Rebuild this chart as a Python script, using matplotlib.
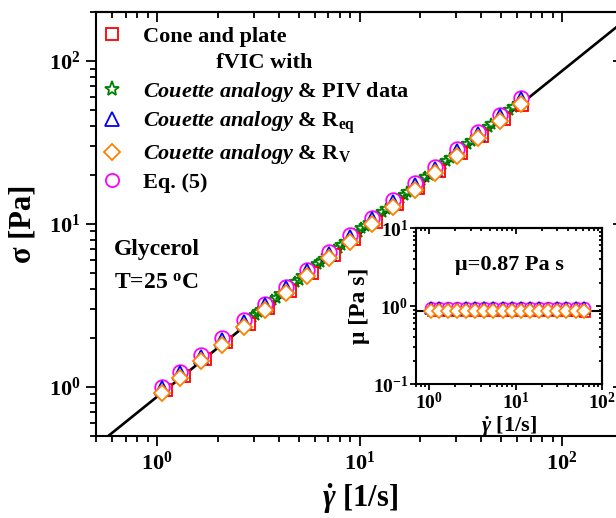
import numpy as np
import matplotlib
matplotlib.use("Agg")
import matplotlib.pyplot as plt
from matplotlib.lines import Line2D
from matplotlib.ticker import LogLocator, FuncFormatter, NullFormatter

plt.rcParams.update({
    "font.family": ["Liberation Serif", "DejaVu Serif"],
    "font.weight": "bold",
    "axes.labelweight": "bold",
    "mathtext.fontset": "custom",
    "mathtext.rm": "Liberation Serif:bold",
    "mathtext.it": "Liberation Serif:italic:bold",
    "mathtext.bf": "Liberation Serif:bold",
    "axes.linewidth": 1.5,
})

# Newtonian fit for glycerol at 25 C
MU_FIT = 0.87
FIT_RANGE = [0.5, 200.0]

# fVIC shear rates [1/s] shared by the Couette-analogy and Eq. (5) series
shear_rate = [1.055, 1.30, 1.65, 2.09, 2.69, 3.41, 4.32, 5.52, 7.09,
              8.97, 11.5, 14.7, 18.7, 23.6, 30.2, 38.6, 49.4, 62.5]
sigma_rv = [0.918, 1.131, 1.436, 1.818, 2.340, 2.967, 3.758, 4.802, 6.168,
            7.804, 10.01, 12.79, 16.27, 20.53, 26.27, 33.58, 42.98, 54.38]
sigma_req = [0.98, 1.21, 1.53, 1.94, 2.50, 3.17, 4.02, 5.13, 6.59,
             8.34, 10.7, 13.7, 17.4, 21.9, 28.1, 35.9, 45.9, 58.1]
sigma_eq5 = [1.00, 1.24, 1.57, 1.99, 2.56, 3.24, 4.11, 5.24, 6.74,
             8.52, 10.9, 14.0, 17.8, 22.4, 28.7, 36.7, 46.9, 59.4]

# cone-and-plate rheometer
shear_rate_cp = [1.11, 1.36, 1.72, 2.19, 2.85, 3.55, 4.52, 5.80, 7.50,
                 9.40, 12.0, 15.4, 19.5, 24.7, 31.7, 40.4, 51.5, 63.5]
sigma_cp = [0.955, 1.17, 1.48, 1.88, 2.44, 3.05, 3.88, 4.97, 6.42,
            8.07, 10.3, 13.2, 16.7, 21.2, 27.1, 34.7, 44.2, 53.8]

# Couette analogy with PIV data
shear_rate_piv = [2.85, 2.95, 3.05, 3.15, 3.27, 3.40, 3.55, 3.70, 3.88, 4.05,
                  4.45, 4.62, 4.80, 5.00, 5.20, 5.70, 5.92, 6.15, 6.40, 6.65,
                  6.95, 7.50, 7.80, 8.10, 8.45, 9.40, 9.80, 10.2, 10.6, 11.1,
                  11.8, 12.3, 12.9, 13.5, 15.2, 15.8, 16.5, 17.2, 19.4, 20.2,
                  21.1, 22.0, 24.6, 25.6, 26.7, 27.9, 31.2, 32.5, 33.9, 35.4,
                  39.5, 41.2, 43.0, 44.8, 50.0, 52.2, 54.5, 57.0]
sigma_piv = [2.57, 2.70, 2.76, 2.90, 2.98, 3.12, 3.22, 3.42, 3.53, 3.72,
             4.08, 4.20, 4.43, 4.55, 4.80, 5.22, 5.40, 5.68, 5.83, 6.12,
             6.35, 6.90, 7.12, 7.45, 7.72, 8.63, 8.95, 9.40, 9.68, 10.2,
             10.8, 11.3, 11.8, 12.4, 13.9, 14.5, 15.1, 15.8, 17.8, 18.5,
             19.4, 20.1, 22.6, 23.4, 24.5, 25.5, 28.6, 29.8, 31.0, 32.5,
             36.2, 37.8, 39.3, 41.1, 45.8, 47.9, 49.9, 52.3]

RED, GREEN, BLUE, ORANGE, MAGENTA = "#FF0000", "#008000", "#0000FF", "#FF8000", "#FF00FF"

# (x, y, marker, colour, size main, size inset, zorder)
series = [
    (shear_rate_piv, sigma_piv, "*", GREEN, 9.0, 6.5, 3),
    (shear_rate_cp, sigma_cp, "s", RED, 9.0, 7.0, 4),
    (shear_rate, sigma_eq5, "o", MAGENTA, 10.5, 8.5, 5),
    (shear_rate, sigma_req, "^", BLUE, 10.0, 8.0, 6),
    (shear_rate, sigma_rv, "D", ORANGE, 8.6, 7.4, 7),
]

W, H = 616, 518
fig = plt.figure(figsize=(W / 100, H / 100), dpi=100)
ax = fig.add_axes([96 / W, 1 - 436 / H, 527 / W, 424 / H])

decade_fmt = FuncFormatter(lambda v, p: r"$10^{%d}$" % int(round(np.log10(v))))


def style_log_axes(a, major_len, minor_len, labelsize, pad):
    a.set_xscale("log")
    a.set_yscale("log")
    for axis in (a.xaxis, a.yaxis):
        axis.set_major_locator(LogLocator(base=10, numticks=10))
        axis.set_minor_locator(LogLocator(base=10, subs=np.arange(2, 10), numticks=10))
        axis.set_major_formatter(decade_fmt)
        axis.set_minor_formatter(NullFormatter())
    a.tick_params(which="both", direction="out", top=False, right=False, width=1.3)
    a.tick_params(which="major", length=major_len, labelsize=labelsize, pad=pad)
    a.tick_params(which="minor", length=minor_len)


def inner_ticks(a, major_len, minor_len):
    top = a.secondary_xaxis("top")
    right = a.secondary_yaxis("right")
    for sec, axis in ((top, top.xaxis), (right, right.yaxis)):
        axis.set_major_formatter(NullFormatter())
        axis.set_minor_formatter(NullFormatter())
        sec.tick_params(which="both", direction="in", width=1.3)
        sec.tick_params(which="major", length=major_len)
        sec.tick_params(which="minor", length=minor_len)


# ---- main panel: shear stress vs shear rate
fit_x = np.array(FIT_RANGE)
ax.plot(fit_x, MU_FIT * fit_x, color="black", lw=1.9, zorder=2)
for x, y, m, c, s, _, z in series:
    ax.plot(x, y, ls="none", marker=m, ms=s, mec=c, mfc="white", mew=1.3, zorder=z)

style_log_axes(ax, 7, 4, 16, 4)
ax.set_xlim(0.5, 200)
ax.set_ylim(0.5, 200)
inner_ticks(ax, 7, 4)

ax.set_xlabel(r"$\dot{\gamma}$ [1/s]", fontsize=22, labelpad=5)
ax.set_ylabel("σ [Pa]", fontsize=22, labelpad=8)

ax.text(0.034, 0.439, "Glycerol", transform=ax.transAxes, fontsize=17,
        ha="left", va="center")
ax.text(0.034, 0.361, r"T=25 $^{\rm o}$C", transform=ax.transAxes, fontsize=17,
        ha="left", va="center")

handles = [
    Line2D([], [], ls="none", marker="s", ms=9, mec=RED, mfc="white", mew=1.3),
    Line2D([], [], ls="none", marker="none"),
    Line2D([], [], ls="none", marker="*", ms=11, mec=GREEN, mfc="white", mew=1.3),
    Line2D([], [], ls="none", marker="^", ms=9.5, mec=BLUE, mfc="white", mew=1.3),
    Line2D([], [], ls="none", marker="D", ms=8, mec=ORANGE, mfc="white", mew=1.3),
    Line2D([], [], ls="none", marker="o", ms=9.5, mec=MAGENTA, mfc="white", mew=1.3),
]
labels = [
    "Cone and plate",
    "             fVIC with",
    r"$\it{Couette\ analogy}$ & PIV data",
    r"$\it{Couette\ analogy}$ & R$_{\rm eq}$",
    r"$\it{Couette\ analogy}$ & R$_{\rm V}$",
    "Eq. (5)",
]
ax.legend(handles, labels, loc="upper left", bbox_to_anchor=(0.012, 0.967),
          frameon=False, fontsize=16, borderpad=0, borderaxespad=0,
          handlelength=0.9, handletextpad=0.92, labelspacing=0.28, numpoints=1)

# ---- inset: viscosity vs shear rate
axi = fig.add_axes([416 / W, 1 - 384 / H, 186 / W, 156 / H])
axi.axhline(MU_FIT, color="black", lw=1.5, zorder=2)
for x, y, m, c, _, s, z in series:
    mu = np.array(y) / np.array(x)
    axi.plot(x, mu, ls="none", marker=m, ms=s, mec=c, mfc="white", mew=1.2, zorder=z)

style_log_axes(axi, 4, 2.5, 14, 1.5)
axi.set_xlim(0.7, 100)
axi.set_ylim(0.1, 10)
inner_ticks(axi, 4, 2.5)
axi.set_xlabel(r"$\dot{\gamma}$ [1/s]", fontsize=16, labelpad=1)
axi.set_ylabel("μ [Pa s]", fontsize=17, labelpad=2)
axi.text(0.505, 0.763, "μ=0.87 Pa s", transform=axi.transAxes, fontsize=16,
         ha="center", va="center")

fig.savefig("out.png", dpi=100)
